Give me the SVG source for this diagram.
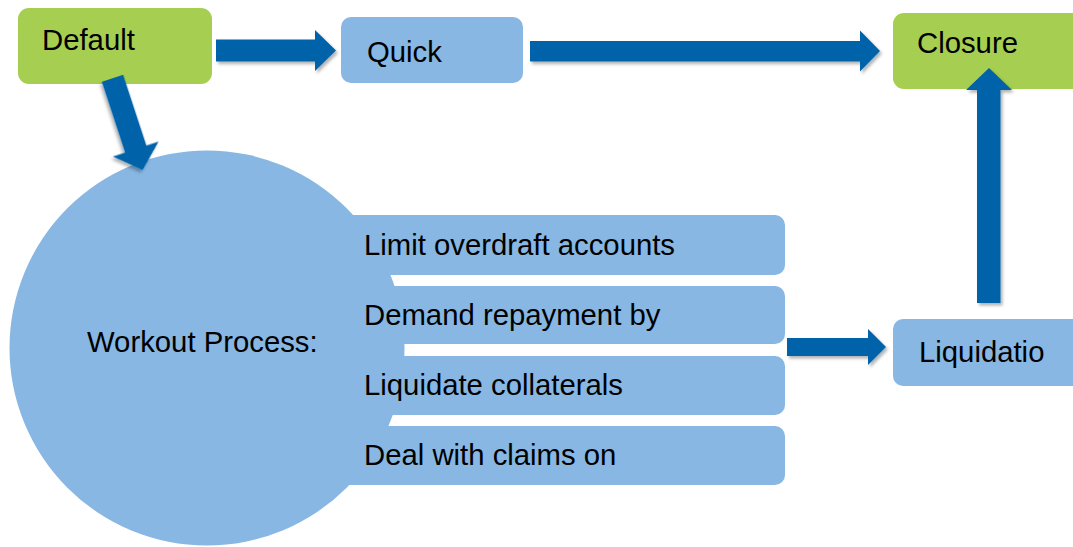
<svg xmlns="http://www.w3.org/2000/svg" width="1073" height="547" viewBox="0 0 1073 547">
  <style>
    .green { fill: #A6CE50; }
    .blue { fill: #87B7E2; }
    .arrow { fill: #0062A8; filter: url(#shadow); }
    .lbl { font-family: "Liberation Sans", Arial, sans-serif; font-size: 29.3px; fill: #000000; }
  </style>
  <defs>
    <filter id="shadow" x="-20%" y="-20%" width="140%" height="140%">
      <feDropShadow dx="2" dy="2.5" stdDeviation="1.8" flood-color="#000000" flood-opacity="0.3"/>
    </filter>
  </defs>
  <rect width="1073" height="547" fill="#FFFFFF"/>

  <g id="workout">
    <circle class="blue" cx="207" cy="348" r="197.5"/>
    <text class="lbl" x="87" y="352">Workout Process:</text>
  </g>
  <g id="bar-limit">
    <path class="blue" d="M345,215 H775 A10,10 0 0 1 785,225 V265 A10,10 0 0 1 775,275 H345 Z"/>
    <text class="lbl" x="364" y="255">Limit overdraft accounts</text>
  </g>
  <g id="bar-demand">
    <path class="blue" d="M345,286 H775 A10,10 0 0 1 785,296 V334 A10,10 0 0 1 775,344 H345 Z"/>
    <text class="lbl" x="364" y="325">Demand repayment by</text>
  </g>
  <g id="bar-liquidate">
    <path class="blue" d="M345,356 H775 A10,10 0 0 1 785,366 V405 A10,10 0 0 1 775,415 H345 Z"/>
    <text class="lbl" x="364" y="395">Liquidate collaterals</text>
  </g>
  <g id="bar-deal">
    <path class="blue" d="M345,426 H775 A10,10 0 0 1 785,436 V475 A10,10 0 0 1 775,485 H345 Z"/>
    <text class="lbl" x="364" y="465">Deal with claims on</text>
  </g>

  <g id="default">
    <rect class="green" x="18" y="8" width="194" height="76" rx="11"/>
    <text class="lbl" x="42" y="50">Default</text>
  </g>
  <g id="quick">
    <rect class="blue" x="341" y="17" width="182" height="66" rx="10"/>
    <text class="lbl" x="367" y="62">Quick</text>
  </g>
  <g id="closure">
    <rect class="green" x="893" y="13" width="200" height="76" rx="11"/>
    <text class="lbl" x="917" y="53">Closure</text>
  </g>
  <g id="liquidation">
    <rect class="blue" x="893" y="319" width="200" height="67" rx="10"/>
    <text class="lbl" x="919" y="362">Liquidatio</text>
  </g>

  <g id="connectors">
    <polygon class="arrow" points="216,39.5 315,39.5 315,30 336,50.5 315,71 315,61.5 216,61.5"/>
    <polygon class="arrow" points="530,41 860,41 860,30.5 880,51 860,71.5 860,61.5 530,61.5"/>
    <polygon class="arrow" points="977,303 977,90 966,90 989,68 1012,90 1000.5,90 1000.5,303"/>
    <polygon class="arrow" points="787,338 868,338 868,329 886,347 868,365 868,356 787,356"/>
    <polygon class="arrow" transform="translate(112.5,78.3) rotate(71.8)" points="0,-11.3 74.5,-11.3 74.5,-24 96.5,0 74.5,24 74.5,11.3 0,11.3"/>
  </g>
</svg>
